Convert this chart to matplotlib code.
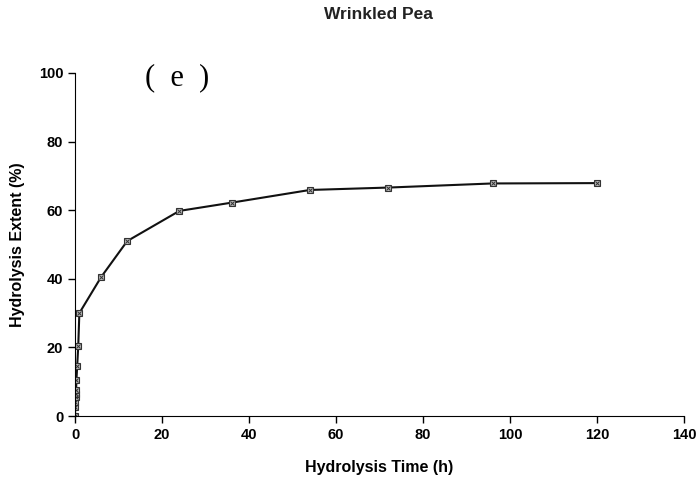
import matplotlib
matplotlib.use("Agg")
import matplotlib.pyplot as plt

# Données
temps = [0, 0.05, 0.1, 0.15, 0.2, 0.25, 0.33, 0.5, 0.75, 1, 6, 12, 24, 36, 54, 72, 96, 120]
hydrolyse = [0, 2.5, 4, 5.5, 6.5, 7.5, 10.5, 14.5, 20.5, 30, 40.5, 51, 59.8, 62.2, 65.9, 66.6, 67.8, 67.9]

xticks = [0, 20, 40, 60, 80, 100, 120, 140]
yticks = [0, 20, 40, 60, 80, 100]

plt.rcParams["font.family"] = "Liberation Sans"

fig = plt.figure(figsize=(6.99, 4.79), dpi=100)
ax = fig.add_axes([0.1073, 0.1315, 0.8712, 0.7161])

ax.plot(temps, hydrolyse, color="#111111", lw=1.5, marker="s", ms=4.5,
        mfc="#bbbbbb", mec="#333333", mew=0.8)
ax.plot(temps, hydrolyse, ls="none", marker="x", ms=3.5, mec="#333333", mew=0.7)

ax.set_xlim(0, 140)
ax.set_ylim(0, 100)
ax.set_xticks(xticks)
ax.set_yticks(yticks)
ax.spines["top"].set_visible(False)
ax.spines["right"].set_visible(False)
ax.tick_params(direction="out", length=5, width=1, labelsize=10.5)
for lab in ax.get_xticklabels() + ax.get_yticklabels():
    lab.set_fontweight("bold")

ax.set_xlabel("Hydrolysis Time (h)", fontsize=11.5, fontweight="bold", labelpad=13)
ax.set_ylabel("Hydrolysis Extent (%)", fontsize=11.5, fontweight="bold", labelpad=10)
fig.text(0.541, 0.97, "Wrinkled Pea", ha="center", va="center", fontsize=12.5,
         fontweight="bold", color="#222222")
ax.text(0.1675, 0.985, "(  e  )", transform=ax.transAxes, fontsize=22,
        family="Liberation Serif", ha="center", va="center")

fig.savefig("out.png", dpi=100)
